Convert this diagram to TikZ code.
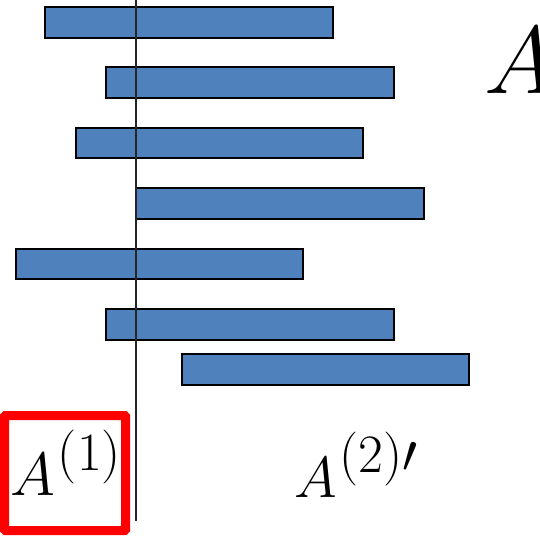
\RequirePackage{fix-cm}
\documentclass[tikz,border=0pt]{standalone}
\usepackage{amsmath}
\usetikzlibrary{positioning}
\definecolor{barblue}{RGB}{79,129,189}
\definecolor{boxred}{RGB}{255,0,0}
\tikzset{
  bar/.style={draw=black, fill=barblue, line width=1.6pt},
  cutline/.style={draw=black!85, line width=1.4pt},
  pickbox/.style={draw=boxred, line width=9pt, rounded corners=1pt},
  lbl/.style={inner sep=0pt, anchor=base west},
}
\newcommand{\supidx}[1]{\raisebox{25pt}{\fontsize{54}{56}\selectfont#1}}

\begin{document}
\begin{tikzpicture}[x=1pt, y=-1pt]
  \useasboundingbox (0,0) rectangle (540,535);

  % bars: left, right, top, bottom
  \foreach \l/\r/\t/\b [count=\i] in {45/333/7/38, 106/394/67/98, 76/363/128/158,
      136/424/188/219, 16/303/249/279, 106/394/309/340, 182/469/354/385}
    \draw[bar] (\l,\t) rectangle (\r,\b);

  % split line
  \coordinate (cuttop) at (136,0);
  \coordinate (cutbot) at (136,521);
  \draw[cutline] (cuttop) -- (cutbot);

  % selected part
  \draw[pickbox] (4.5,415.5) rectangle (125.5,530.5);

  \node[lbl, font=\fontsize{61}{64}\selectfont] (aone) at (10,495) {$A$\kern3pt\supidx{(1)}};
  \node[lbl, font=\fontsize{58}{62}\selectfont] (atwo) at (294,497) {$A$\kern3pt\supidx{(2)$\prime$}};
  \node[lbl, font=\fontsize{96}{100}\selectfont] (afull) at (484,93) {$A$};
\end{tikzpicture}
\end{document}
